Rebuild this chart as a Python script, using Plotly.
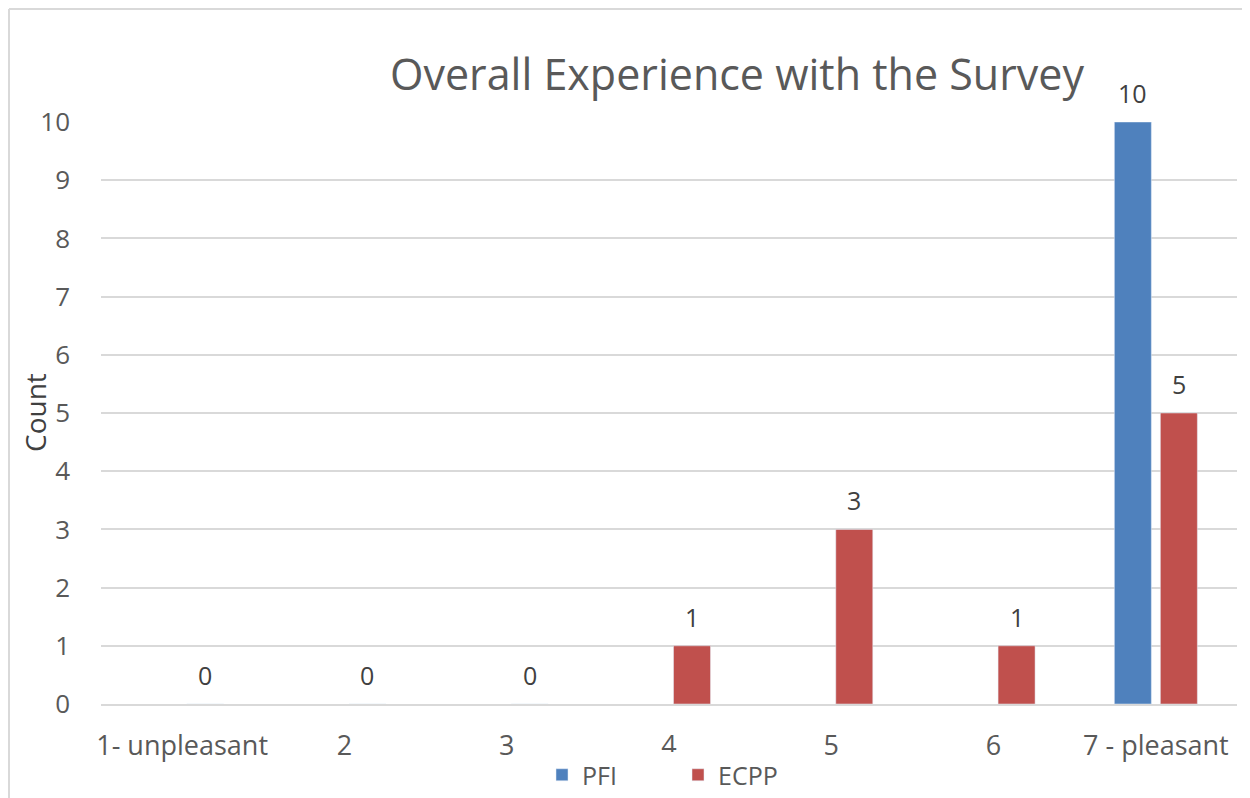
import plotly.graph_objects as go

categories = ["1- unpleasant", "2", "3", "4", "5", "6", "7 - pleasant"]
pfi = [None, None, None, None, None, None, 10]
ecpp = [0, 0, 0, 1, 3, 1, 5]
y_ticks = list(range(0, 11))

BLUE = "#4F81BD"
RED = "#C0504D"
FONT = "Open Sans"
GREY = "#595959"
DARK = "#404040"

fig = go.Figure()
fig.add_trace(go.Bar(name="PFI", x=categories, y=pfi, marker_color=BLUE))
fig.add_trace(go.Bar(name="ECPP", x=categories, y=ecpp, marker_color=RED))

# data labels (category index used as x position on the category axis)
for series, shift in ((pfi, -23), (ecpp, 23)):
    for i, v in enumerate(series):
        if v is None:
            continue
        fig.add_annotation(x=i, y=v, xref="x", yref="y", text=str(v), showarrow=False,
                           xshift=shift, yshift=29, yanchor="middle",
                           font=dict(family=FONT, size=25, color=DARK))

# figure geometry (page has an 8px body margin)
W, H = 1242, 790
L, R, T, B = 93, 13, 114, 94
pw = W - L - R
ph = H - T - B

# chart-area border (left and top edges visible)
bx = (1 - L) / pw
by = 1 + (T - 1) / ph
fig.add_shape(type="line", xref="paper", yref="paper", x0=bx, x1=bx, y0=-(B + 5) / ph, y1=by,
              line=dict(color="#D9D9D9", width=2))
fig.add_shape(type="line", xref="paper", yref="paper", x0=bx, x1=1 + (R + 5) / pw, y0=by, y1=by,
              line=dict(color="#D9D9D9", width=2))

# y-axis title
fig.add_annotation(text="Count", xref="paper", yref="paper", x=(27 - L) / pw, y=(696 - 405) / ph,
                   textangle=-90, showarrow=False, xanchor="center", yanchor="middle",
                   font=dict(family=FONT, size=28, color=DARK))

fig.update_layout(
    width=W, height=H,
    margin=dict(l=L, r=R, t=T, b=B, autoexpand=False),
    paper_bgcolor="white", plot_bgcolor="white",
    barmode="group", bargap=0.433, bargroupgap=0.196,
    title=dict(text="Overall Experience with the Survey", x=(729 - L) / pw, xref="paper",
               xanchor="center", y=1 - 67 / H, yref="container", yanchor="middle",
               font=dict(family=FONT, size=43, color=GREY)),
    font=dict(family=FONT, color=GREY),
    legend=dict(orientation="h", x=(670 - L) / pw, xanchor="center",
                y=-(767 - (T + ph)) / ph, yanchor="middle", entrywidth=91, entrywidthmode="pixels",
                font=dict(family=FONT, size=25, color=GREY)),
    showlegend=True,
)
fig.update_xaxes(type="category", showgrid=False, showline=True, linecolor="#D9D9D9", linewidth=2,
                 tickfont=dict(family=FONT, size=27, color=GREY), ticks="", ticklabelstandoff=17,
                 tickangle=0, automargin=False)
fig.update_yaxes(range=[0, 10], tickvals=y_ticks, showgrid=True, gridcolor="#D9D9D9", gridwidth=2,
                 zeroline=False, showline=False, ticks="", automargin=False,
                 tickfont=dict(family=FONT, size=26, color=GREY), ticklabelstandoff=30)

fig.write_html("out.html")
